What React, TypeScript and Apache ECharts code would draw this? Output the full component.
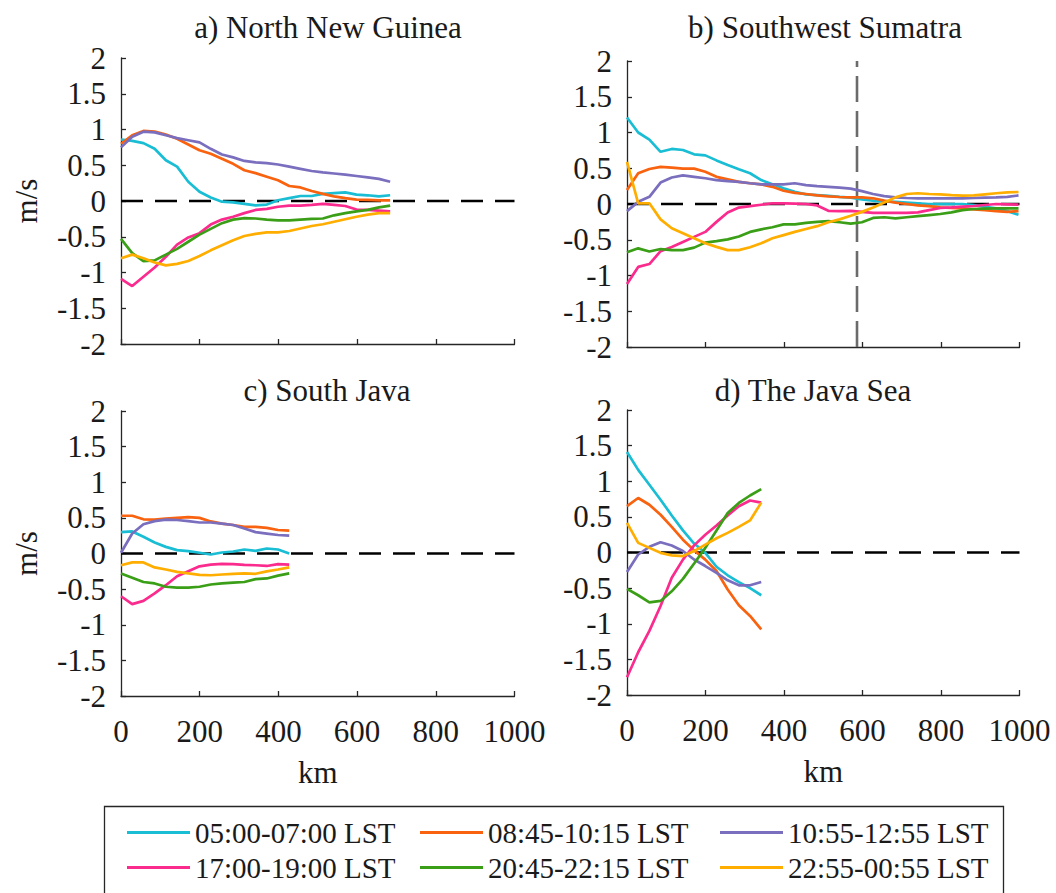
import React, { useEffect, useRef } from "react";
import * as echarts from "echarts";

// Distance along the transect (km)
const KM = [0, 28.5, 57, 85.5, 114, 142.5, 171, 199.5, 228, 256.5, 285, 313.5, 342, 370.5, 399, 427.5, 456, 484.5, 513, 541.5, 570, 598.5, 627, 655.5, 684, 712.5, 741, 769.5, 798, 826.5, 855, 883.5, 912, 940.5, 969, 997.5];

const SERIES_NAMES = ["05:00-07:00 LST", "08:45-10:15 LST", "10:55-12:55 LST", "17:00-19:00 LST", "20:45-22:15 LST", "22:55-00:55 LST"];
const COLORS = ["#19BDD4", "#F9620F", "#7A6EBE", "#FB2B8E", "#3A9F17", "#FFAE00"];
const PANEL_TITLES = ["a) North New Guinea", "b) Southwest Sumatra", "c) South Java", "d) The Java Sea"];
const Y_TICKS_MIN = -2;
const Y_TICKS_MAX = 2;
const X_MIN = 0;
const X_MAX = 1000;
const SUMATRA_MARK_KM = 586;

// a) North New Guinea
const cyanA = [0.86, 0.84, 0.81, 0.73, 0.57, 0.48, 0.27, 0.13, 0.05, -0.01, -0.02, -0.04, -0.06, -0.05, 0.01, 0.04, 0.07, 0.07, 0.10, 0.11, 0.12, 0.09, 0.08, 0.065, 0.08];
const orangeA = [0.80, 0.92, 0.98, 0.97, 0.93, 0.87, 0.79, 0.71, 0.66, 0.59, 0.52, 0.43, 0.39, 0.34, 0.29, 0.21, 0.19, 0.14, 0.10, 0.065, 0.04, 0.02, 0.015, 0.01, 0.01];
const purpleA = [0.75, 0.90, 0.97, 0.96, 0.92, 0.88, 0.85, 0.82, 0.73, 0.65, 0.61, 0.56, 0.54, 0.53, 0.51, 0.48, 0.45, 0.42, 0.40, 0.385, 0.37, 0.35, 0.33, 0.31, 0.27];
const pinkA = [-1.09, -1.19, -1.06, -0.93, -0.78, -0.61, -0.51, -0.45, -0.33, -0.26, -0.22, -0.17, -0.125, -0.11, -0.08, -0.065, -0.065, -0.055, -0.04, -0.055, -0.07, -0.12, -0.125, -0.135, -0.145];
const greenA = [-0.53, -0.73, -0.84, -0.83, -0.75, -0.67, -0.57, -0.47, -0.39, -0.31, -0.26, -0.24, -0.245, -0.26, -0.27, -0.27, -0.26, -0.25, -0.245, -0.20, -0.17, -0.145, -0.125, -0.09, -0.065];
const yellowA = [-0.80, -0.75, -0.80, -0.86, -0.90, -0.88, -0.84, -0.77, -0.69, -0.62, -0.55, -0.49, -0.46, -0.44, -0.44, -0.42, -0.385, -0.35, -0.325, -0.29, -0.255, -0.22, -0.19, -0.17, -0.17];

// b) Southwest Sumatra
const cyanB = [1.21, 1.00, 0.90, 0.73, 0.77, 0.755, 0.695, 0.68, 0.61, 0.545, 0.485, 0.43, 0.335, 0.275, 0.22, 0.17, 0.135, 0.125, 0.115, 0.10, 0.09, 0.065, 0.045, 0.035, 0.03, 0.02, 0.01, 0, 0, 0, 0, -0.015, -0.04, -0.06, -0.10, -0.15];
const orangeB = [0.195, 0.43, 0.49, 0.52, 0.51, 0.495, 0.495, 0.45, 0.38, 0.345, 0.31, 0.29, 0.275, 0.24, 0.185, 0.155, 0.14, 0.12, 0.107, 0.098, 0.093, 0.093, 0.08, 0.047, 0.02, 0, -0.02, -0.03, -0.047, -0.056, -0.06, -0.075, -0.085, -0.10, -0.11, -0.10];
const purpleB = [-0.10, 0.03, 0.10, 0.30, 0.37, 0.40, 0.38, 0.36, 0.335, 0.32, 0.31, 0.29, 0.275, 0.275, 0.275, 0.29, 0.265, 0.25, 0.24, 0.23, 0.215, 0.18, 0.14, 0.11, 0.093, 0.084, 0.08, 0.08, 0.08, 0.08, 0.08, 0.084, 0.09, 0.093, 0.10, 0.12];
const pinkB = [-1.12, -0.88, -0.84, -0.66, -0.60, -0.53, -0.46, -0.39, -0.25, -0.12, -0.05, -0.03, -0.01, 0.01, 0.01, 0.005, 0, -0.02, -0.095, -0.10, -0.095, -0.11, -0.125, -0.125, -0.125, -0.125, -0.117, -0.085, -0.056, -0.047, -0.037, -0.028, -0.014, 0, -0.005, -0.01];
const greenB = [-0.675, -0.62, -0.665, -0.63, -0.645, -0.645, -0.61, -0.54, -0.52, -0.495, -0.455, -0.39, -0.355, -0.325, -0.285, -0.285, -0.265, -0.25, -0.24, -0.255, -0.275, -0.255, -0.195, -0.185, -0.20, -0.185, -0.17, -0.155, -0.14, -0.117, -0.085, -0.07, -0.065, -0.06, -0.06, -0.06];
const yellowB = [0.59, 0.01, 0.01, -0.215, -0.34, -0.41, -0.48, -0.55, -0.60, -0.645, -0.645, -0.605, -0.55, -0.48, -0.435, -0.39, -0.35, -0.31, -0.255, -0.215, -0.165, -0.11, -0.05, 0.02, 0.093, 0.14, 0.15, 0.14, 0.135, 0.125, 0.117, 0.12, 0.135, 0.15, 0.163, 0.168];

// c) South Java
const cyanC = [0.30, 0.31, 0.235, 0.155, 0.093, 0.047, 0.033, 0.01, -0.014, 0.014, 0.028, 0.056, 0.037, 0.07, 0.056, 0];
const orangeC = [0.53, 0.53, 0.48, 0.475, 0.49, 0.50, 0.51, 0.50, 0.45, 0.42, 0.40, 0.375, 0.375, 0.36, 0.33, 0.32];
const purpleC = [0.01, 0.28, 0.41, 0.455, 0.475, 0.47, 0.455, 0.435, 0.435, 0.42, 0.40, 0.35, 0.30, 0.28, 0.26, 0.25];
const pinkC = [-0.60, -0.71, -0.665, -0.56, -0.445, -0.32, -0.25, -0.18, -0.155, -0.145, -0.15, -0.16, -0.165, -0.175, -0.15, -0.155];
const greenC = [-0.28, -0.34, -0.40, -0.42, -0.467, -0.48, -0.48, -0.467, -0.435, -0.42, -0.41, -0.40, -0.36, -0.35, -0.31, -0.28];
const yellowC = [-0.165, -0.125, -0.125, -0.195, -0.225, -0.257, -0.28, -0.30, -0.305, -0.295, -0.285, -0.28, -0.285, -0.25, -0.225, -0.195];

// d) The Java Sea
const cyanD = [1.41, 1.16, 0.95, 0.74, 0.52, 0.31, 0.126, -0.005, -0.20, -0.32, -0.415, -0.50, -0.60];
const orangeD = [0.65, 0.765, 0.67, 0.53, 0.36, 0.18, 0.03, -0.10, -0.26, -0.52, -0.74, -0.89, -1.08];
const purpleD = [-0.275, -0.028, 0.08, 0.145, 0.098, 0.02, -0.098, -0.19, -0.285, -0.39, -0.46, -0.46, -0.415];
const pinkD = [-1.75, -1.40, -1.10, -0.75, -0.355, -0.10, 0.10, 0.25, 0.38, 0.52, 0.65, 0.73, 0.70];
const greenD = [-0.51, -0.60, -0.70, -0.68, -0.545, -0.37, -0.155, 0.065, 0.31, 0.555, 0.695, 0.80, 0.89];
const yellowD = [0.415, 0.135, 0.065, -0.005, -0.04, -0.05, 0.02, 0.11, 0.20, 0.275, 0.36, 0.45, 0.70];

const PANEL_DATA = [
  [cyanA, orangeA, purpleA, pinkA, greenA, yellowA],
  [cyanB, orangeB, purpleB, pinkB, greenB, yellowB],
  [cyanC, orangeC, purpleC, pinkC, greenC, yellowC],
  [cyanD, orangeD, purpleD, pinkD, greenD, yellowD],
];

const FONT = '"Liberation Serif", "Times New Roman", serif';
const AXIS_COLOR = "#262626";
const TEXT_COLOR = "#1a1a1a";

// layout (pixels)
const GRIDS = [
  { left: 121, top: 58, width: 393.5, height: 286 },
  { left: 627, top: 61, width: 392.5, height: 286 },
  { left: 121, top: 411, width: 393.5, height: 285 },
  { left: 627, top: 410, width: 392.5, height: 285 },
];
const TITLE_POS = [
  [328, 27],
  [825, 27],
  [327, 390],
  [813, 390],
];
const LEGEND_COLS = [127, 420, 720];
const LEGEND_ROWS = [833, 868];

export default function App() {
  const ref = useRef<HTMLDivElement>(null);

  useEffect(() => {
    if (!ref.current) return;
    const chart = echarts.init(ref.current, undefined, { renderer: "svg" });

    const grid = GRIDS.map((g) => ({ ...g, containLabel: false }));

    const xAxis = GRIDS.map((_, i) => {
      const bottom = i >= 2;
      return {
        type: "value",
        gridIndex: i,
        min: X_MIN,
        max: X_MAX,
        interval: 200,
        name: bottom ? "km" : "",
        nameLocation: "middle",
        nameGap: 61,
        nameTextStyle: { fontFamily: FONT, fontSize: 31, color: TEXT_COLOR },
        axisLine: { show: true, onZero: false, lineStyle: { color: AXIS_COLOR, width: 1.3 } },
        axisTick: { show: true, inside: true, length: 5, lineStyle: { color: AXIS_COLOR, width: 1.3 } },
        axisLabel: {
          show: bottom,
          margin: 20,
          fontFamily: FONT,
          fontSize: 31,
          color: TEXT_COLOR,
          formatter: (v: number) => String(v),
        },
        splitLine: { show: false },
      };
    });

    const yAxis = GRIDS.map((_, i) => {
      const leftCol = i % 2 === 0;
      return {
        type: "value",
        gridIndex: i,
        min: Y_TICKS_MIN,
        max: Y_TICKS_MAX,
        interval: 0.5,
        name: leftCol ? "m/s" : "",
        nameLocation: "middle",
        nameGap: 79,
        nameTextStyle: { fontFamily: FONT, fontSize: 31, color: TEXT_COLOR },
        axisLine: { show: true, onZero: false, lineStyle: { color: AXIS_COLOR, width: 1.3 } },
        axisTick: { show: true, inside: true, length: 5, lineStyle: { color: AXIS_COLOR, width: 1.3 } },
        axisLabel: {
          show: true,
          margin: 15,
          fontFamily: FONT,
          fontSize: 31,
          color: TEXT_COLOR,
          formatter: (v: number) => String(v),
        },
        splitLine: { show: false },
      };
    });

    const series: any[] = [];
    PANEL_DATA.forEach((panel, p) => {
      series.push({
        type: "line",
        name: "zero",
        xAxisIndex: p,
        yAxisIndex: p,
        data: [[X_MIN, 0], [X_MAX, 0]],
        showSymbol: false,
        silent: true,
        lineStyle: { color: "#000", width: 2.6, type: [22, 12] },
        z: 1,
      });
      if (p === 1) {
        series.push({
          type: "line",
          name: "mark",
          xAxisIndex: p,
          yAxisIndex: p,
          data: [[SUMATRA_MARK_KM, Y_TICKS_MIN], [SUMATRA_MARK_KM, Y_TICKS_MAX]],
          showSymbol: false,
          silent: true,
          lineStyle: { color: "#6b6b6b", width: 2.6, type: [26, 9] },
          z: 1,
        });
      }
      panel.forEach((vals, k) => {
        series.push({
          type: "line",
          name: SERIES_NAMES[k],
          xAxisIndex: p,
          yAxisIndex: p,
          data: vals.map((v, j) => [KM[j], v]),
          showSymbol: false,
          color: COLORS[k],
          lineStyle: { color: COLORS[k], width: 2.7 },
          z: 2,
        });
      });
    });

    // one legend per entry: 3 columns x 2 rows
    const legend = SERIES_NAMES.map((name, k) => ({
      orient: "horizontal",
      left: LEGEND_COLS[k % 3],
      top: LEGEND_ROWS[Math.floor(k / 3)] - 15,
      icon: "rect",
      itemWidth: 63,
      itemHeight: 3,
      itemGap: 10,
      padding: 0,
      selectedMode: false,
      textStyle: { fontFamily: FONT, fontSize: 29, color: TEXT_COLOR },
      data: [name],
    }));

    const graphic: any[] = PANEL_TITLES.map((t, i) => ({
      type: "text",
      x: TITLE_POS[i][0],
      y: TITLE_POS[i][1],
      style: {
        text: t,
        fontFamily: FONT,
        fontSize: 31,
        fill: TEXT_COLOR,
        align: "center",
        verticalAlign: "middle",
      },
    }));
    graphic.push({
      type: "rect",
      shape: { x: 104.5, y: 806.5, width: 899, height: 120 },
      style: { fill: "none", stroke: AXIS_COLOR, lineWidth: 1.3 },
      silent: true,
    });

    chart.setOption({
      animation: false,
      backgroundColor: "#ffffff",
      grid,
      xAxis,
      yAxis,
      series,
      legend,
      graphic,
    });

    return () => chart.dispose();
  }, []);

  return (
    <div
      ref={ref}
      style={{ position: "fixed", left: 0, top: 0, width: 1056, height: 893, background: "#fff" }}
    />
  );
}
